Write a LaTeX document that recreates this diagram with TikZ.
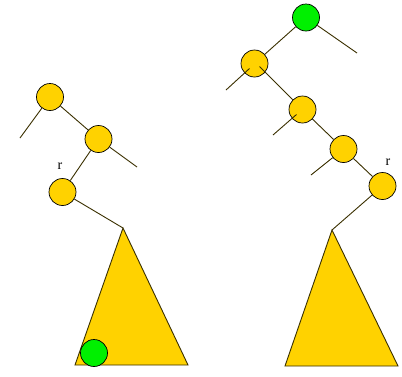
\documentclass[tikz,border=0pt]{standalone}
\usepackage{fontspec}
\setmainfont{Liberation Serif}
\definecolor{nodeyellow}{HTML}{FFD200}
\definecolor{nodegreen}{HTML}{00F000}
\definecolor{edgecol}{HTML}{3A3000}
\begin{document}
\begin{tikzpicture}[x=1pt,y=-1pt,
  yel/.style={circle,draw=black,line width=0.7pt,fill=nodeyellow,minimum size=27pt,inner sep=0pt},
  grn/.style={circle,draw=black,line width=0.7pt,fill=nodegreen,minimum size=27pt,inner sep=0pt},
  edge/.style={draw=edgecol,line width=0.9pt},
  tri/.style={draw=edgecol,line width=0.9pt,fill=nodeyellow,line join=miter},
  lbl/.style={font=\fontsize{14}{16}\selectfont,inner sep=0pt}]
\useasboundingbox (0,0) rectangle (402,376);
% ---------- left tree ----------
\coordinate (la) at (123,228);
\coordinate (lbl1) at (75,365);
\coordinate (lbr1) at (188,365);
\coordinate (lA1) at (20,138);
\coordinate (lB1) at (137,167);
\path[tri] (la) -- (lbl1) -- (lbr1) -- cycle;
\node[grn] (lg) at (94,353) {};
\node[yel] (A) at (50,97) {};
\node[yel] (B) at (98.5,139) {};
\node[yel] (C) at (62.5,192) {};
\draw[edge] (A) -- (lA1);
\draw[edge] (A) -- (B);
\draw[edge] (B) -- (lB1);
\draw[edge] (B) -- (C);
\draw[edge] (C) -- (la);
\node[lbl] (rl) at (60,166) {r};
% ---------- right tree ----------
\coordinate (ra) at (332,230);
\coordinate (rbl) at (285,366);
\coordinate (rbr) at (398,366);
\coordinate (rG1) at (357,53);
\coordinate (rD1) at (226,90);
\coordinate (rE1) at (273,135);
\coordinate (rF1) at (311,175);
\path[tri] (ra) -- (rbl) -- (rbr) -- cycle;
\node[grn] (G) at (306,17.5) {};
\node[yel] (D) at (254.5,63.5) {};
\node[yel] (E) at (302.5,109.5) {};
\node[yel] (F) at (343.5,149) {};
\node[yel] (H) at (382.5,186) {};
\draw[edge] (G) -- (rG1);
\draw[edge] (G) -- (D);
\draw[edge] (D.center) ++(-5,5) -- (rD1);
\draw[edge] (D.center) ++(5,3) -- (E);
\draw[edge] (E.center) ++(-6,5) -- (rE1);
\draw[edge] (E) -- (F);
\draw[edge] (F) -- (rF1);
\draw[edge] (F) -- (H);
\draw[edge] (H) -- (ra);
\node[lbl] (rr) at (388,162) {r};
\end{tikzpicture}
\end{document}
